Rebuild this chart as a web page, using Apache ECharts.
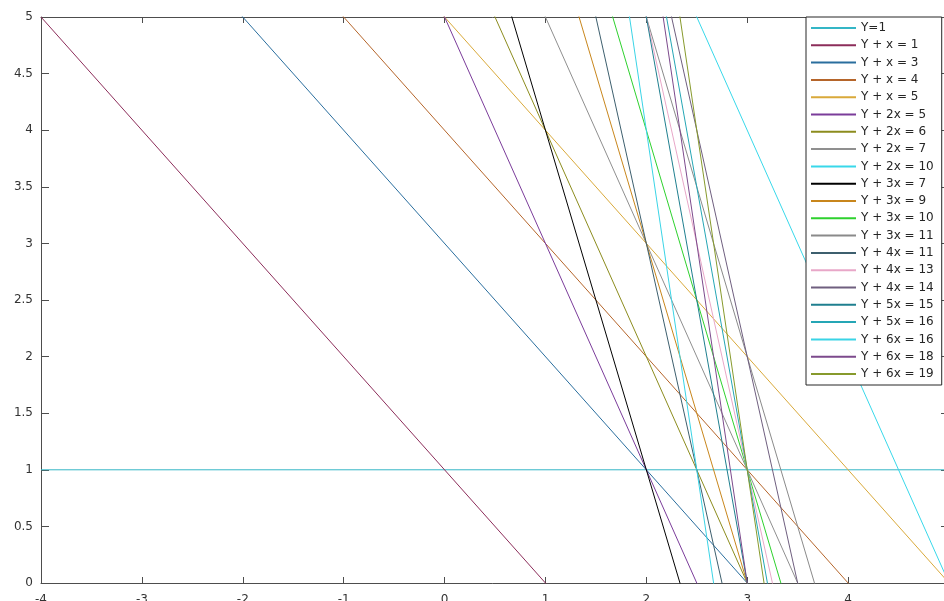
<!DOCTYPE html>
<html>
<head>
<meta charset="utf-8">
<script src="https://cdn.jsdelivr.net/npm/echarts@6/dist/echarts.min.js"></script>
<style>html,body{margin:0;padding:0;background:#fff}#c{width:944px;height:601px}</style>
</head>
<body>
<div id="c"></div>
<script>
const labels = ['Y=1','Y + x = 1','Y + x = 3','Y + x = 4','Y + x = 5','Y + 2x = 5','Y + 2x = 6','Y + 2x = 7','Y + 2x = 10','Y + 3x = 7','Y + 3x = 9','Y + 3x = 10','Y + 3x = 11','Y + 4x = 11','Y + 4x = 13','Y + 4x = 14','Y + 5x = 15','Y + 5x = 16','Y + 6x = 16','Y + 6x = 18','Y + 6x = 19'];
const xCoef = [0,1,1,1,1,2,2,2,2,3,3,3,3,4,4,4,5,5,6,6,6];
const rhs = [1,1,3,4,5,5,6,7,10,7,9,10,11,11,13,14,15,16,16,18,19];
const colors = ['#34b6c6','#8c2d5a','#2a6e9e','#b5652a','#d9a93a','#7b3c9a','#8c8c1e','#8f8f8f','#38d8ea','#000000','#c8861c','#2ed12e','#8a8a8a','#3d5f6e','#e8a7c8','#6f5f7f','#1f7f8f','#25a6b5','#3ad4e6','#7c4a8c','#879a2c'];
const xRange = [-4, 5];

const axisCol = '#4d4d4d';
const chart = echarts.init(document.getElementById('c'));
const series = labels.map((name, i) => ({
  name: name,
  type: 'line',
  symbol: 'none',
  showSymbol: false,
  clip: true,
  color: colors[i],
  lineStyle: {width: 1, color: colors[i]},
  data: xRange.map(x => [x, rhs[i] - xCoef[i] * x])
}));
chart.setOption({
  animation: false,
  backgroundColor: '#fff',
  grid: {left: 41, top: 17, width: 908, height: 566, outerBoundsMode: 'none', containLabel: false},
  textStyle: {fontFamily: 'DejaVu Sans'},
  xAxis: [{
    type: 'value', min: -4, max: 5, interval: 1, position: 'bottom',
    axisLine: {show: true, onZero: false, lineStyle: {color: axisCol}},
    axisTick: {show: true, inside: true, length: 6, lineStyle: {color: axisCol}},
    axisLabel: {color: '#333', fontSize: 12, margin: 11, fontFamily: 'DejaVu Sans'},
    splitLine: {show: false}
  }, {
    type: 'value', min: -4, max: 5, interval: 1, position: 'top',
    axisLine: {show: true, onZero: false, lineStyle: {color: axisCol}},
    axisTick: {show: true, inside: true, length: 6, lineStyle: {color: axisCol}},
    axisLabel: {show: false}, splitLine: {show: false}
  }],
  yAxis: [{
    type: 'value', min: 0, max: 5, interval: 0.5, position: 'left',
    axisLine: {show: true, onZero: false, lineStyle: {color: axisCol}},
    axisTick: {show: true, inside: true, length: 8, lineStyle: {color: axisCol}},
    axisLabel: {color: '#333', fontSize: 12, margin: 8, fontFamily: 'DejaVu Sans'},
    splitLine: {show: false}
  }, {
    type: 'value', min: 0, max: 5, interval: 0.5, position: 'right',
    axisLine: {show: true, onZero: false, lineStyle: {color: axisCol}},
    axisTick: {show: true, inside: true, length: 8, lineStyle: {color: axisCol}},
    axisLabel: {show: false}, splitLine: {show: false}
  }],
  legend: {
    orient: 'vertical', left: 806, top: 17,
    backgroundColor: '#fff', borderColor: '#262626', borderWidth: 1,
    padding: [5, 8, 5, 4],
    itemWidth: 45, itemHeight: 12, itemGap: 5.3,
    itemStyle: {opacity: 0},
    textStyle: {fontSize: 12, color: '#262626', fontFamily: 'DejaVu Sans'},
    data: labels
  },
  series: series
});
</script>
</body>
</html>
